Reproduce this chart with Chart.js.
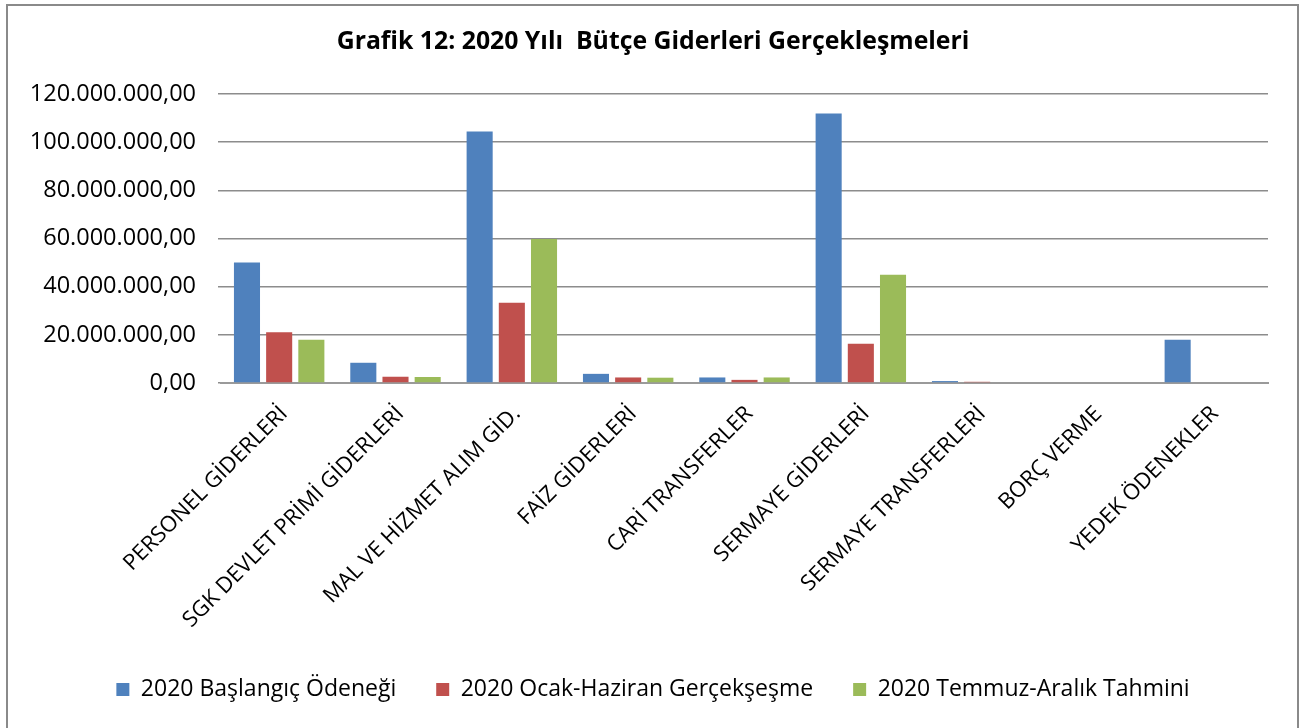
<!DOCTYPE html>
<html>
<head>
<meta charset="utf-8">
<script src="https://cdn.jsdelivr.net/npm/chart.js@4.4.1/dist/chart.umd.min.js"></script>
<style>
  html, body { margin: 0; padding: 0; background: #fff; }
  #wrap { width: 1302px; height: 728px; position: relative; }
</style>
</head>
<body>
<div id="wrap"><canvas id="giderChart"></canvas></div>
<script>
// --- veriler ---
const kategoriler = ['PERSONEL GİDERLERİ', 'SGK DEVLET PRİMİ GİDERLERİ', 'MAL VE HİZMET ALIM GİD.',
  'FAİZ GİDERLERİ', 'CARİ TRANSFERLER', 'SERMAYE GİDERLERİ', 'SERMAYE TRANSFERLERİ',
  'BORÇ VERME', 'YEDEK ÖDENEKLER'];
const baslangicOdenegi = [50000000, 8400000, 104400000, 3800000, 2300000, 111900000, 800000, 0, 18000000];
const ocakHaziran = [21100000, 2600000, 33300000, 2300000, 1300000, 16300000, 500000, 0, 0];
const temmuzAralik = [18000000, 2500000, 59800000, 2200000, 2300000, 44900000, 0, 0, 0];
const seriAdlari = ['2020 Başlangıç Ödeneği', '2020 Ocak-Haziran Gerçekşeşme', '2020 Temmuz-Aralık Tahmini'];
const yTikler = [0, 20000000, 40000000, 60000000, 80000000, 100000000, 120000000];

const blue = '#4F81BD';
const red = '#C0504D';
const green = '#9BBB59';
const gridColor = '#8c8c8c';
const axisFont = '"Open Sans", sans-serif';

// Türkçe sayı biçimi: 120.000.000,00
function trFormat(v) {
  const s = Math.round(v).toString().replace(/\B(?=(\d{3})+(?!\d))/g, '.');
  return s + ',00';
}

// dış çerçeve
const borderPlugin = {
  id: 'disCerceve',
  beforeDraw(chart) {
    const c = chart.ctx;
    c.save();
    c.fillStyle = '#fff';
    c.fillRect(0, 0, chart.width, chart.height);
    c.strokeStyle = '#8a8a8a';
    c.lineWidth = 2;
    c.strokeRect(7, 5, 1291, 740);
    c.restore();
  }
};

const ctx = document.getElementById('giderChart').getContext('2d');
new Chart(ctx, {
  type: 'bar',
  data: {
    labels: kategoriler,
    datasets: [
      { label: seriAdlari[0], data: baslangicOdenegi, backgroundColor: blue },
      { label: seriAdlari[1], data: ocakHaziran, backgroundColor: red },
      { label: seriAdlari[2], data: temmuzAralik, backgroundColor: green }
    ]
  },
  options: {
    responsive: true,
    maintainAspectRatio: false,
    animation: false,
    categoryPercentage: 0.83,
    barPercentage: 0.81,
    layout: { padding: { top: 0, left: 18, right: 14, bottom: 17 } },
    scales: {
      x: {
        grid: { display: false, drawTicks: false },
        border: { display: true, color: '#9a9a9a', width: 2 },
        ticks: {
          color: '#000',
          font: { family: axisFont, size: 22 },
          maxRotation: 45, minRotation: 45,
          autoSkip: false,
          padding: 18,
          labelOffset: 5
        },
        afterFit(scale) { scale.height = 255; }
      },
      y: {
        min: 0, max: 120000000,
        afterBuildTicks(scale) { scale.ticks = yTikler.map(v => ({ value: v })); },
        grid: { color: gridColor, lineWidth: 1.5, drawTicks: true, tickLength: 3 },
        border: { display: false },
        ticks: {
          color: '#000',
          font: { family: axisFont, size: 23.5 },
          padding: 22,
          callback: v => trFormat(v)
        },
        afterFit(scale) { scale.width = 203; }
      },
      // sağda boş bir şerit: başlık ve lejant ortalansın diye
      bosluk: {
        type: 'linear',
        position: 'right',
        min: 0, max: 1,
        grid: { display: false, drawTicks: false },
        border: { display: false },
        ticks: { display: false },
        afterFit(scale) { scale.width = 20; }
      }
    },
    plugins: {
      title: {
        display: true,
        text: 'Grafik 12: 2020 Yılı  Bütçe Giderleri Gerçekleşmeleri',
        color: '#000',
        font: { family: axisFont, size: 24.8, weight: 'bold' },
        padding: { top: 27, bottom: 37.2 }
      },
      legend: {
        display: true,
        position: 'bottom',
        labels: {
          color: '#000',
          font: { family: axisFont, size: 23 },
          boxWidth: 13, boxHeight: 13,
          padding: 40
        }
      },
      tooltip: { enabled: false }
    }
  },
  plugins: [borderPlugin]
});
</script>
</body>
</html>
